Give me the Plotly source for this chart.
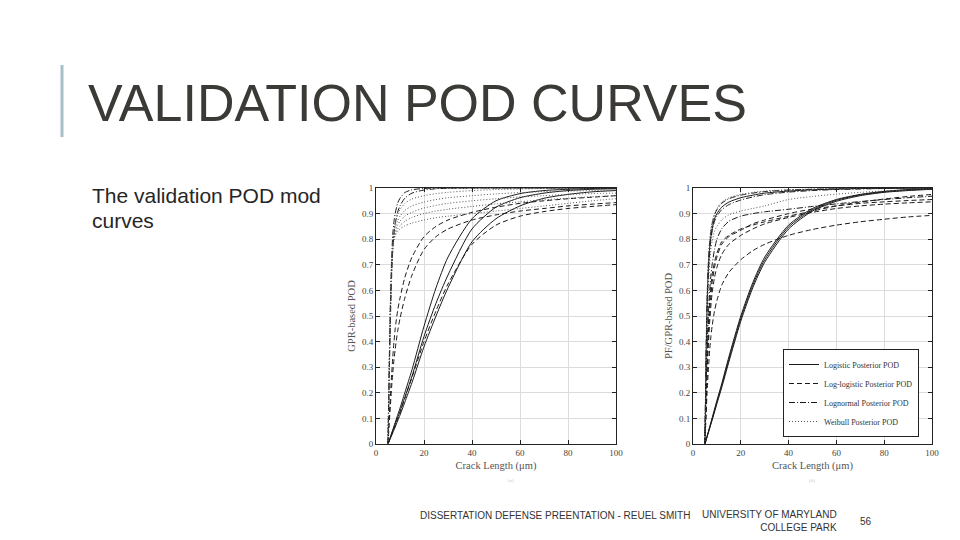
import plotly.graph_objects as go

# ---------------- data ----------------
crack_x = [5, 5.5, 6, 6.5, 7, 7.5, 8, 9, 10, 12, 15, 20, 25, 30, 40, 50, 60, 70, 80, 90, 100]

# (a) GPR-based POD
gpr_logistic = [
    [0, 0.014, 0.028, 0.042, 0.056, 0.07, 0.084, 0.112, 0.14, 0.2, 0.29, 0.46, 0.61, 0.73, 0.88, 0.95, 0.978, 0.99, 0.995, 0.998, 0.999],
    [0, 0.013, 0.026, 0.039, 0.052, 0.065, 0.078, 0.103, 0.128, 0.182, 0.265, 0.42, 0.55, 0.66, 0.84, 0.925, 0.962, 0.98, 0.99, 0.995, 0.997],
    [0, 0.011, 0.022, 0.033, 0.044, 0.055, 0.066, 0.09, 0.113, 0.163, 0.24, 0.38, 0.5, 0.61, 0.79, 0.88, 0.93, 0.96, 0.975, 0.985, 0.99],
]
gpr_loglogistic = [
    [0, 0.1, 0.19, 0.27, 0.34, 0.4, 0.45, 0.52, 0.57, 0.65, 0.73, 0.81, 0.85, 0.875, 0.905, 0.925, 0.94, 0.95, 0.958, 0.964, 0.97],
    [0, 0.08, 0.15, 0.22, 0.28, 0.33, 0.37, 0.44, 0.49, 0.57, 0.66, 0.76, 0.81, 0.84, 0.875, 0.895, 0.91, 0.92, 0.93, 0.937, 0.943],
    [0, 0.012, 0.024, 0.036, 0.048, 0.06, 0.072, 0.097, 0.121, 0.178, 0.26, 0.4, 0.52, 0.625, 0.78, 0.855, 0.89, 0.908, 0.92, 0.928, 0.935],
]
gpr_lognormal = [
    [0, 0.3, 0.55, 0.72, 0.82, 0.87, 0.9, 0.94, 0.96, 0.982, 0.993, 0.998, 1, 1, 1, 1, 1, 1, 1, 1, 1],
    [0, 0.25, 0.48, 0.65, 0.76, 0.82, 0.86, 0.905, 0.93, 0.96, 0.98, 0.992, 0.997, 0.999, 1, 1, 1, 1, 1, 1, 1],
]
gpr_weibull = [
    [0, 0.28, 0.52, 0.67, 0.76, 0.8, 0.815, 0.83, 0.84, 0.852, 0.863, 0.875, 0.884, 0.89, 0.9, 0.91, 0.92, 0.93, 0.94, 0.95, 0.958],
    [0, 0.28, 0.52, 0.67, 0.76, 0.8, 0.82, 0.84, 0.853, 0.87, 0.885, 0.9, 0.91, 0.917, 0.928, 0.938, 0.946, 0.954, 0.96, 0.966, 0.97],
    [0, 0.29, 0.53, 0.68, 0.77, 0.81, 0.83, 0.855, 0.87, 0.89, 0.905, 0.922, 0.932, 0.94, 0.95, 0.958, 0.965, 0.97, 0.975, 0.978, 0.98],
    [0, 0.3, 0.54, 0.69, 0.78, 0.82, 0.845, 0.872, 0.89, 0.912, 0.93, 0.945, 0.955, 0.962, 0.97, 0.977, 0.982, 0.986, 0.988, 0.99, 0.991],
    [0, 0.3, 0.55, 0.7, 0.79, 0.835, 0.862, 0.895, 0.915, 0.94, 0.957, 0.97, 0.978, 0.983, 0.99, 0.994, 0.996, 0.998, 0.999, 0.999, 1.0],
]

# (b) PF/GPR-based POD
pf_logistic = [
    [0, 0.017, 0.034, 0.051, 0.068, 0.085, 0.102, 0.136, 0.17, 0.235, 0.34, 0.5, 0.63, 0.73, 0.855, 0.92, 0.955, 0.975, 0.987, 0.994, 0.997],
    [0, 0.016, 0.032, 0.048, 0.064, 0.08, 0.096, 0.13, 0.163, 0.227, 0.33, 0.49, 0.62, 0.72, 0.848, 0.915, 0.952, 0.973, 0.985, 0.992, 0.996],
    [0, 0.016, 0.031, 0.047, 0.062, 0.078, 0.093, 0.125, 0.157, 0.22, 0.32, 0.48, 0.61, 0.71, 0.84, 0.91, 0.948, 0.97, 0.983, 0.99, 0.995],
    [0, 0.35, 0.58, 0.7, 0.77, 0.81, 0.84, 0.88, 0.9, 0.925, 0.945, 0.962, 0.972, 0.98, 0.988, 0.993, 0.996, 0.998, 0.999, 1, 1],
]
pf_loglogistic = [
    [0, 0.2, 0.36, 0.48, 0.56, 0.62, 0.66, 0.71, 0.745, 0.79, 0.815, 0.84, 0.855, 0.868, 0.89, 0.91, 0.93, 0.945, 0.957, 0.967, 0.975],
    [0, 0.18, 0.33, 0.44, 0.52, 0.58, 0.63, 0.69, 0.73, 0.78, 0.81, 0.835, 0.86, 0.875, 0.9, 0.918, 0.93, 0.94, 0.946, 0.951, 0.955],
    [0, 0.16, 0.3, 0.4, 0.48, 0.54, 0.59, 0.65, 0.69, 0.74, 0.78, 0.815, 0.84, 0.86, 0.885, 0.905, 0.92, 0.93, 0.937, 0.942, 0.946],
    [0, 0.12, 0.22, 0.3, 0.37, 0.42, 0.46, 0.52, 0.56, 0.62, 0.67, 0.72, 0.755, 0.78, 0.815, 0.838, 0.855, 0.868, 0.878, 0.887, 0.893],
]
pf_lognormal = [
    [0, 0.38, 0.6, 0.72, 0.79, 0.83, 0.86, 0.895, 0.915, 0.94, 0.958, 0.972, 0.98, 0.986, 0.992, 0.995, 0.997, 0.998, 0.999, 1, 1],
    [0, 0.33, 0.55, 0.68, 0.75, 0.8, 0.83, 0.87, 0.89, 0.915, 0.935, 0.953, 0.965, 0.974, 0.984, 0.99, 0.994, 0.996, 0.998, 0.999, 1],
    [0, 0.22, 0.4, 0.52, 0.6, 0.66, 0.7, 0.76, 0.8, 0.84, 0.87, 0.89, 0.9, 0.907, 0.917, 0.928, 0.938, 0.947, 0.955, 0.962, 0.968],
]
pf_weibull = [
    [0, 0.37, 0.6, 0.72, 0.8, 0.84, 0.865, 0.9, 0.92, 0.945, 0.962, 0.975, 0.983, 0.988, 0.993, 0.996, 0.998, 0.999, 1, 1, 1],
    [0, 0.3, 0.5, 0.63, 0.71, 0.76, 0.79, 0.83, 0.85, 0.875, 0.895, 0.91, 0.92, 0.93, 0.955, 0.967, 0.976, 0.983, 0.988, 0.992, 0.995],
]

family_names = ["Logistic Posterior POD", "Log-logistic Posterior POD",
                "Lognormal Posterior POD", "Weibull Posterior POD"]
x_ticks = [0, 20, 40, 60, 80, 100]
y_ticks = [0, 0.1, 0.2, 0.3, 0.4, 0.5, 0.6, 0.7, 0.8, 0.9, 1]

# ---------------- styling ----------------
W, H = 960, 540
PAGE_OFFSET = 8  # default body margin of the html page
dash_styles = ["solid", "5px,3px", "6px,2px,1px,2px", "1px,2px"]
line_colors = ["#1a1a1a", "#1a1a1a", "#1a1a1a", "#555555"]

fig = go.Figure()

def add_family(curves, fam, xa, ya, legend):
    for i, ys in enumerate(curves):
        fig.add_trace(go.Scatter(
            x=crack_x, y=ys, mode="lines", xaxis=xa, yaxis=ya,
            name=family_names[fam], legendgroup=family_names[fam],
            showlegend=(legend and i == 0),
            line=dict(color=line_colors[fam], width=1, dash=dash_styles[fam],
                      shape="spline", smoothing=0.7),
            hoverinfo="skip"))

for fam, curves in enumerate([gpr_logistic, gpr_loglogistic, gpr_lognormal, gpr_weibull]):
    add_family(curves, fam, "x", "y", False)
for fam, curves in enumerate([pf_logistic, pf_loglogistic, pf_lognormal, pf_weibull]):
    add_family(curves, fam, "x2", "y2", True)

def px(v):
    return (v - PAGE_OFFSET) / W

def py(v):
    return 1 - (v - PAGE_OFFSET) / H

tick_font = dict(family="Liberation Serif, Times New Roman, serif", size=9, color="#444")
title_font = dict(family="Liberation Serif, Times New Roman, serif", size=10.5, color="#555")

axis_common = dict(range=[0, 100], tickvals=x_ticks, showgrid=True, gridcolor="#dcdcdc",
                   gridwidth=1, zeroline=False, showline=True, linecolor="#222", linewidth=1,
                   mirror="ticks", ticks="inside", ticklen=4, tickcolor="#222",
                   tickfont=tick_font, automargin=False)
yaxis_common = dict(range=[0, 1], tickvals=y_ticks, showgrid=True, gridcolor="#dcdcdc",
                    gridwidth=1, zeroline=False, showline=True, linecolor="#222", linewidth=1,
                    mirror="ticks", ticks="inside", ticklen=4, tickcolor="#222",
                    tickfont=tick_font, automargin=False)

fig.update_layout(
    template="none",
    width=W, height=H, margin=dict(l=0, r=0, t=0, b=0, autoexpand=False),
    paper_bgcolor="white", plot_bgcolor="white",
    xaxis=dict(domain=[px(376), px(616)], anchor="y",
               title=dict(text="Crack Length (μm)", font=title_font, standoff=4), **axis_common),
    yaxis=dict(domain=[py(444), py(188)], anchor="x",
               title=dict(text="GPR-based POD", font=title_font, standoff=4), **yaxis_common),
    xaxis2=dict(domain=[px(693), px(932)], anchor="y2",
                title=dict(text="Crack Length (μm)", font=title_font, standoff=4), **axis_common),
    yaxis2=dict(domain=[py(444), py(188)], anchor="x2",
                title=dict(text="PF/GPR-based POD", font=title_font, standoff=4), **yaxis_common),
    legend=dict(x=px(783), y=py(437), xanchor="left", yanchor="bottom",
                bgcolor="white", bordercolor="#222", borderwidth=1,
                font=dict(family="Liberation Serif, Times New Roman, serif", size=8, color="#333"),
                itemwidth=30, tracegroupgap=0),
    showlegend=True,
)

sans = "Liberation Sans, Arial, sans-serif"
annotations = [
    dict(text="VALIDATION POD CURVES", x=px(86), y=py(103), xanchor="left", yanchor="middle",
         font=dict(family=sans, size=52, color="#3c3a36")),
    dict(text="The validation POD mod", x=px(90), y=py(196), xanchor="left", yanchor="middle",
         font=dict(family=sans, size=21, color="#262626")),
    dict(text="curves", x=px(90), y=py(220), xanchor="left", yanchor="middle",
         font=dict(family=sans, size=21, color="#262626")),
    dict(text="DISSERTATION DEFENSE PREENTATION - REUEL SMITH", x=px(418), y=py(515),
         xanchor="left", yanchor="middle", font=dict(family=sans, size=10, color="#333")),
    dict(text="UNIVERSITY OF MARYLAND<br>COLLEGE PARK", x=px(839), y=py(521), xanchor="right",
         yanchor="middle", align="right", font=dict(family=sans, size=10, color="#333")),
    dict(text="56", x=px(866), y=py(521), xanchor="center", yanchor="middle",
         font=dict(family=sans, size=10, color="#333")),
    dict(text="(a)", x=px(511), y=py(480), xanchor="center", yanchor="middle",
         font=dict(family="Liberation Serif, serif", size=5, color="#c8c8c8")),
    dict(text="(b)", x=px(812), y=py(480), xanchor="center", yanchor="middle",
         font=dict(family="Liberation Serif, serif", size=5, color="#c8c8c8")),
]
for a in annotations:
    a.update(xref="paper", yref="paper", showarrow=False)
fig.update_layout(annotations=annotations)

fig.add_shape(type="line", xref="paper", yref="paper", x0=px(62), x1=px(62), y0=py(65), y1=py(137),
              line=dict(color="#a9bfc7", width=3))

fig.write_html("out.html")
